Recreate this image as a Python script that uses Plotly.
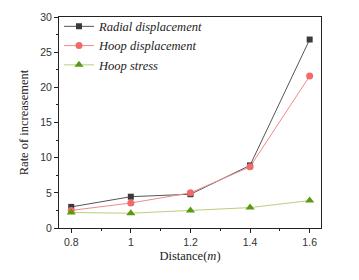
import plotly.graph_objects as go

distance = [0.8, 1.0, 1.2, 1.4, 1.6]
radial_disp = [3.0, 4.45, 4.8, 8.9, 26.8]
hoop_disp = [2.5, 3.55, 5.0, 8.7, 21.6]
hoop_stress = [2.2, 2.1, 2.5, 2.9, 3.9]

x_ticks = [0.8, 1.0, 1.2, 1.4, 1.6]
x_labels = ["0.8", "1", "1.2", "1.4", "1.6"]
y_ticks = [0, 5, 10, 15, 20, 25, 30]

fig = go.Figure()
fig.add_trace(go.Scatter(x=distance, y=radial_disp, mode="lines+markers",
                         name="<i>Radial displacement</i>",
                         line=dict(color="#555555", width=1),
                         marker=dict(symbol="square", size=6, color="#3a3a3a")))
fig.add_trace(go.Scatter(x=distance, y=hoop_disp, mode="lines+markers",
                         name="<i>Hoop displacement</i>",
                         line=dict(color="#f08a8a", width=1),
                         marker=dict(symbol="circle", size=7, color="#f06a6a")))
fig.add_trace(go.Scatter(x=distance, y=hoop_stress, mode="lines+markers",
                         name="<i>Hoop stress</i>",
                         line=dict(color="#b8cf7a", width=1),
                         marker=dict(symbol="triangle-up", size=8, color="#5a9a10")))

fig.update_layout(
    width=359, height=280,
    margin=dict(l=51, r=46, t=9, b=60, autoexpand=False),
    plot_bgcolor="white", paper_bgcolor="white",
    showlegend=True,
    legend=dict(x=0.0, y=1.025, xanchor="left", yanchor="top",
                bgcolor="rgba(0,0,0,0)", borderwidth=0,
                font=dict(family="Liberation Serif", size=12.5, color="#222222"),
                itemwidth=30, tracegroupgap=0),
    font=dict(family="Liberation Sans", size=10.5, color="#333333"),
)
fig.update_xaxes(
    range=[0.759, 1.638], tickvals=x_ticks, ticktext=x_labels,
    ticks="outside", ticklen=4, tickcolor="#222222", automargin=False,
    minor=dict(dtick=0.1, ticks="outside", ticklen=2, tickcolor="#222222"),
    showline=True, linecolor="#222222", linewidth=1, mirror=True,
    showgrid=False, zeroline=False,
    title=dict(text="Distance(<i>m</i>)", font=dict(family="Liberation Serif", size=12.5, color="#222222"), standoff=4),
    tickfont=dict(family="Liberation Sans", size=10.5, color="#333333"),
)
fig.update_yaxes(
    range=[0, 30], tickvals=y_ticks,
    ticks="outside", ticklen=4, tickcolor="#222222", automargin=False,
    minor=dict(dtick=2.5, ticks="outside", ticklen=2, tickcolor="#222222"),
    showline=True, linecolor="#222222", linewidth=1, mirror=True,
    showgrid=False, zeroline=False,
    title=dict(text="Rate of increasement", font=dict(family="Liberation Serif", size=12.5, color="#222222"), standoff=8),
    tickfont=dict(family="Liberation Sans", size=10.5, color="#333333"),
)

fig.write_html("out.html")
